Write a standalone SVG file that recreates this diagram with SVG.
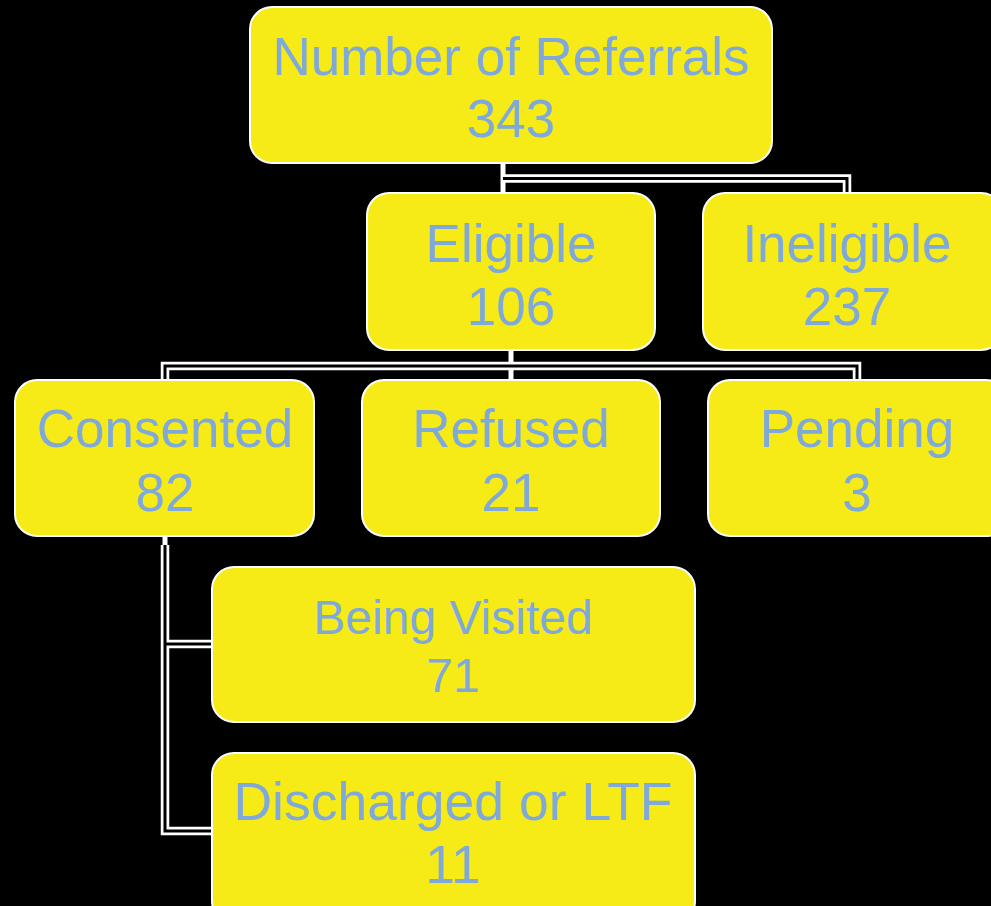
<svg xmlns="http://www.w3.org/2000/svg" width="991" height="906" viewBox="0 0 991 906">
<style>
.box{fill:#F6EB16;stroke:#FFFFFF;stroke-width:2}
.t{font-family:"Liberation Sans",Arial,sans-serif;fill:#7EA9DA;text-anchor:middle}
.outer{fill:none;stroke:#FFFFFF;stroke-width:8.5;stroke-linejoin:miter;stroke-linecap:butt}
.inner{fill:none;stroke:#000000;stroke-width:3;stroke-linejoin:miter;stroke-linecap:butt}
.solid{fill:none;stroke:#FFFFFF;stroke-width:5}
</style>
<rect x="0" y="0" width="991" height="906" fill="#000000"/>
<g id="connectors">
  <line class="solid" x1="503" y1="163" x2="503" y2="193"/>
  <path class="outer" d="M503,178.5 H847 V194"/>
  <path class="inner" d="M503,178.5 H847 V194"/>
  <line class="solid" x1="511" y1="350" x2="511" y2="380"/>
  <path class="outer" d="M165,381 V366 H857 V381"/>
  <path class="inner" d="M165,381 V366 H857 V381"/>
  <line class="solid" x1="165" y1="536" x2="165" y2="546"/>
  <path class="outer" d="M165,545 V831 H213 M165,644 H213"/>
  <path class="inner" d="M165,545 V831 H213 M165,644 H213"/>
</g>
<g id="referrals">
  <rect class="box" x="250" y="7" width="522" height="156" rx="22"/>
  <text class="t" x="511" y="75" font-size="53">Number of Referrals</text>
  <text class="t" x="511" y="137" font-size="53">343</text>
</g>
<g id="eligible">
  <rect class="box" x="367" y="193" width="288" height="157" rx="22"/>
  <text class="t" x="511" y="262" font-size="53">Eligible</text>
  <text class="t" x="511" y="325" font-size="53">106</text>
</g>
<g id="ineligible">
  <rect class="box" x="703" y="193" width="300" height="157" rx="22"/>
  <text class="t" x="847" y="262" font-size="53">Ineligible</text>
  <text class="t" x="847" y="325" font-size="53">237</text>
</g>
<g id="consented">
  <rect class="box" x="15" y="380" width="299" height="156" rx="22"/>
  <text class="t" x="165" y="447" font-size="53">Consented</text>
  <text class="t" x="165" y="511" font-size="53">82</text>
</g>
<g id="refused">
  <rect class="box" x="362" y="380" width="298" height="156" rx="22"/>
  <text class="t" x="511" y="447" font-size="53">Refused</text>
  <text class="t" x="511" y="511" font-size="53">21</text>
</g>
<g id="pending">
  <rect class="box" x="708" y="380" width="300" height="156" rx="22"/>
  <text class="t" x="857" y="447" font-size="53">Pending</text>
  <text class="t" x="857" y="511" font-size="53">3</text>
</g>
<g id="being-visited">
  <rect class="box" x="212" y="567" width="483" height="155" rx="22"/>
  <text class="t" x="453" y="634" font-size="48">Being Visited</text>
  <text class="t" x="453" y="692" font-size="48">71</text>
</g>
<g id="discharged">
  <rect class="box" x="212" y="753" width="483" height="170" rx="22"/>
  <text class="t" x="453" y="820" font-size="53.5">Discharged or LTF</text>
  <text class="t" x="453" y="883" font-size="53.5">11</text>
</g>
</svg>
